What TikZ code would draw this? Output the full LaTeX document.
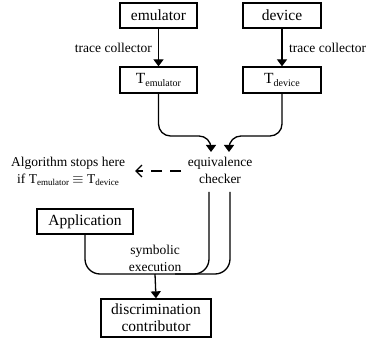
\documentclass[tikz,border=0pt]{standalone}
\usepackage{fontspec}
\setmainfont{Liberation Serif}
\usetikzlibrary{arrows.meta}
\newcommand{\sbs}[1]{\raisebox{-0.3ex}{\fontsize{10}{10}\selectfont #1}}
\newcommand{\sbx}[1]{\raisebox{-0.3ex}{\fontsize{9}{9}\selectfont #1}}
\begin{document}
\begin{tikzpicture}[x=1pt,y=-1pt,
  box/.style={draw, line width=1.3pt, inner sep=0pt, font=\fontsize{15.5}{17}\selectfont, align=center},
  lbl/.style={font=\fontsize{13.5}{17}\selectfont, align=center, inner sep=0pt},
  arr/.style={line width=1.3pt, -{Triangle[length=7pt,width=10pt]}},
  ln/.style={line width=1.3pt}]
\useasboundingbox (0,0) rectangle (367,342);
% boxes
\node[box, minimum width=77pt, minimum height=25pt] (emu) at (158.5,15.5) {emulator};
\node[box, minimum width=78pt, minimum height=25pt] (dev) at (282,15.5) {device};
\node[box, minimum width=77pt, minimum height=26pt] (temu) at (158.5,80) {T\sbs{emulator}};
\node[box, minimum width=78pt, minimum height=26pt] (tdev) at (282,80) {T\sbs{device}};
\node[box, minimum width=96pt, minimum height=25pt] (app) at (85,221.5) {Application};
\node[box, minimum width=110pt, minimum height=38pt] (disc) at (156,318) {discrimination\\contributor};
% labels
\node[lbl, anchor=east] (tc1) at (152,48) {trace collector};
\node[lbl, anchor=west] (tc2) at (289,48) {trace collector};
\node[lbl] (chk) at (220,170) {equivalence\\checker};
\node[lbl] (stop) at (68,171) {Algorithm stops here\\if T\sbx{emulator} $\equiv$ T\sbx{device}};
\node[lbl] (sym) at (155,258) {symbolic\\execution};
% coordinates
\coordinate (in1) at (211,152);
\coordinate (in2) at (229,152);
\coordinate (o1) at (209,192);
\coordinate (o2) at (230,192);
\coordinate (j) at (155,274);
\coordinate (d1) at (181,171);
\coordinate (d2) at (135,171);
% connectors
\draw[arr] (emu) -- (temu);
\draw[arr] (dev) -- (tdev);
\draw[arr, rounded corners=12pt] (temu.south) |- (211,136) -- (in1);
\draw[arr, rounded corners=12pt] (tdev.south) |- (229,136) -- (in2);
\draw[ln, rounded corners=15pt] (app.south) |- (209,274) -- (o1);
\draw[ln, rounded corners=15pt] (o2) |- (175,274);
\draw[arr] (j) -- (disc.north);
\draw[line width=1.3pt, dash pattern=on 11pt off 8pt, -{Straight Barb[length=6pt,width=12pt]}] (d1) -- (d2);
\end{tikzpicture}
\end{document}
